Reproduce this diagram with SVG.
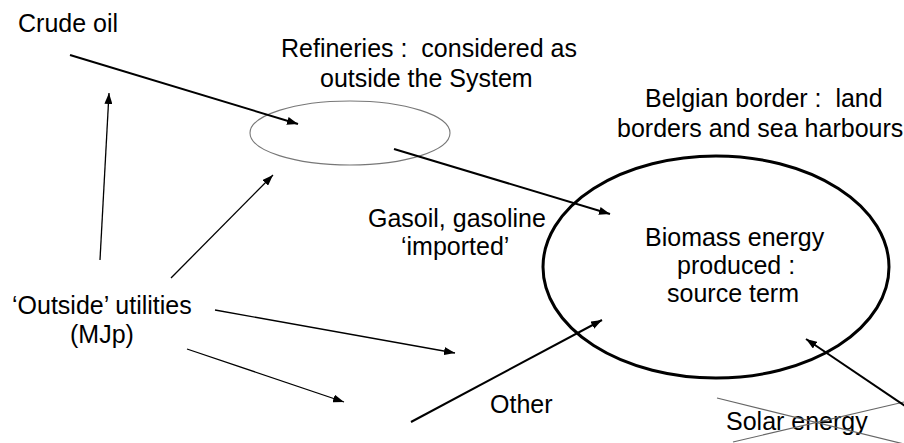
<svg xmlns="http://www.w3.org/2000/svg" width="904" height="443" viewBox="0 0 904 443">
  <style>
    text { font-family: "Liberation Sans", Arial, sans-serif; font-size: 25px; fill: #000; }
    .thick { stroke: #000; stroke-width: 2; fill: none; marker-end: url(#head); }
    .thin { stroke: #000; stroke-width: 1.3; fill: none; marker-end: url(#head); }
    .cross { stroke: #666; stroke-width: 1.2; fill: none; }
  </style>
  <defs>
    <marker id="head" markerUnits="userSpaceOnUse" markerWidth="12" markerHeight="8" refX="11" refY="4" orient="auto">
      <path d="M0,0 L11,4 L0,8 z" fill="#000"/>
    </marker>
  </defs>
  <rect width="904" height="443" fill="#fff"/>

  <g id="crude-oil">
    <text x="18" y="32">Crude oil</text>
  </g>

  <g id="refineries">
    <ellipse cx="350" cy="133" rx="100" ry="32" fill="none" stroke="#777" stroke-width="1.1"/>
    <text x="281" y="57" xml:space="preserve">Refineries :  considered as</text>
    <text x="320" y="87">outside the System</text>
  </g>

  <g id="belgian-border">
    <text x="645" y="107" xml:space="preserve">Belgian border :  land</text>
    <text x="617" y="137">borders and sea harbours</text>
  </g>

  <g id="biomass">
    <ellipse cx="716" cy="267" rx="173" ry="111" fill="none" stroke="#000" stroke-width="3"/>
    <text x="645" y="246">Biomass energy</text>
    <text x="677" y="274">produced :</text>
    <text x="667" y="302">source term</text>
  </g>

  <g id="gasoil">
    <text x="368" y="227">Gasoil, gasoline</text>
    <text x="401" y="255">‘imported’</text>
  </g>

  <g id="outside-utilities">
    <text x="12" y="314">‘Outside’ utilities</text>
    <text x="70" y="343">(MJp)</text>
  </g>

  <g id="other">
    <text x="490" y="413">Other</text>
  </g>

  <g id="solar-energy">
    <text x="726" y="430">Solar energy</text>
    <line class="cross" x1="717" y1="398" x2="904" y2="444"/>
    <line class="cross" x1="733" y1="442" x2="904" y2="402"/>
  </g>

  <g id="connectors">
    <line class="thick" x1="70" y1="55" x2="298" y2="124"/>
    <line class="thick" x1="394" y1="149" x2="610" y2="214"/>
    <line class="thin" x1="100" y1="260" x2="109" y2="93"/>
    <line class="thin" x1="171" y1="278" x2="273" y2="175"/>
    <line class="thin" x1="215" y1="310" x2="455" y2="353"/>
    <line class="thin" x1="187" y1="349" x2="344" y2="402"/>
    <line class="thick" x1="411" y1="422" x2="602" y2="320"/>
    <line class="thick" x1="920" y1="416" x2="806" y2="339"/>
  </g>
</svg>
